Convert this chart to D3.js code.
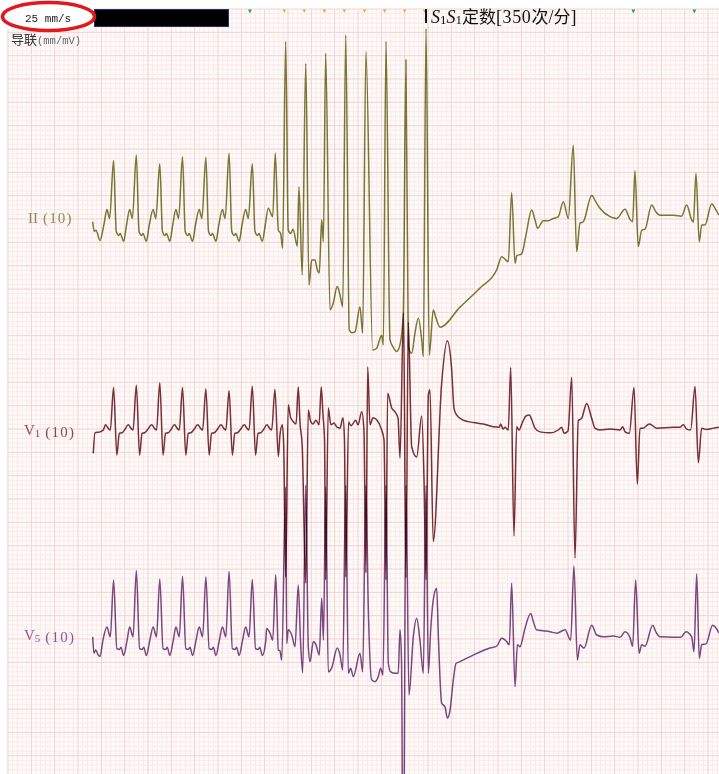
<!DOCTYPE html>
<html><head><meta charset="utf-8">
<script src="https://cdn.jsdelivr.net/npm/d3@7"></script>
<style>html,body{margin:0;padding:0;background:#fff;}svg{display:block}</style>
</head><body>
<svg id="c" width="719" height="774"></svg>
<script>
// ---------- DATA (time in s, amplitude in mV) ----------
const nativeBeatTimes = [0.905, 1.100, 1.301, 1.496, 1.696, 1.895, 2.094];
const paceTimes = [2.380, 2.552, 2.723, 2.895, 3.068, 3.240, 3.411, 3.583];
const senseMarkTimes = [2.074, 5.360, 5.883];

const leadIIStart = [[0.726,-0.08],[0.740,-0.29],[0.754,-0.26],[0.789,-0.48],[0.823,-0.13]];
const leadIITemplate = [[-0.057,0.18],[-0.034,-0.01],[0,null],[0.023,-0.29],[0.045,-0.375],[0.057,-0.33],[0.086,-0.50],[0.111,-0.15]];
const leadIIR = [1.23,1.35,1.16,1.31,1.30,1.39,1.16];
const leadIIRest = [[2.231,0.21],[2.269,0.03],[2.291,1.39],[2.317,-0.26],[2.337,-0.33],[2.354,-0.65],[2.380,3.78],[2.402,-0.26],[2.423,-0.33],[2.443,-0.24],[2.480,-0.60],[2.494,0.67],[2.522,-1.22],[2.552,3.31],[2.580,-1.44],[2.603,-0.90],[2.631,-0.90],[2.651,-1.11],[2.668,-1.18],[2.689,-0.04],[2.703,-0.51],[2.723,3.53],[2.760,-1.97],[2.786,-1.84],[2.822,-1.47],[2.846,-1.65],[2.869,-1.90],[2.895,3.92],[2.925,-2.40],[2.948,-2.46],[2.974,-2.44],[3.017,-1.90],[3.040,-2.47],[3.068,3.56],[3.126,-2.83],[3.160,-2.79],[3.203,-2.51],[3.217,-2.72],[3.240,3.78],[3.274,-2.61],[3.300,-2.76],[3.332,-2.86],[3.360,-2.72],[3.388,-2.04],[3.411,3.39],[3.431,-2.76],[3.460,-2.90],[3.488,-2.47],[3.517,-2.15],[3.546,-2.61],[3.560,-2.97],[3.583,4.06],[3.611,-2.94],[3.645,-1.97],[3.668,-2.14],[3.703,-2.34],[3.874,-1.91],[4.046,-1.50],[4.189,-1.11],[4.232,-0.83],[4.260,-0.88],[4.288,-0.94],[4.317,0.54],[4.346,-0.97],[4.360,-0.81],[4.403,-0.77],[4.440,-0.36],[4.489,0.17],[4.517,-0.04],[4.540,-0.22],[4.588,-0.06],[4.631,-0.06],[4.674,-0.01],[4.717,0.03],[4.760,0.35],[4.803,-0.01],[4.845,1.56],[4.874,-0.72],[4.903,-0.11],[4.931,-0.08],[5.003,0.48],[5.040,0.34],[5.074,0.21],[5.160,0.03],[5.217,-0.01],[5.289,0.19],[5.331,-0.03],[5.354,-0.08],[5.374,1.01],[5.402,-0.61],[5.432,-0.26],[5.460,-0.24],[5.517,0.28],[5.554,0.13],[5.589,0.06],[5.703,0.06],[5.774,0.04],[5.817,0.28],[5.860,-0.04],[5.875,-0.09],[5.897,0.96],[5.925,-0.51],[5.946,-0.15],[5.974,-0.15],[6.031,0.30],[6.069,0.17],[6.094,0.06]];

const leadV1Start = [[0.731,-0.50],[0.746,-0.06],[0.789,-0.04],[0.817,0]];
const leadV1Template = [[-0.069,0.11],[-0.047,0.04],[-0.028,0],[0,null],[0.028,-0.54],[0.049,-0.07],[0.072,-0.06],[0.094,0]];
const leadV1R = [0.91,0.96,1.01,0.91,0.88,0.84,0.94];
const leadV1Rest = [[2.220,0.11],[2.241,0.04],[2.260,0],[2.288,0.87],[2.317,-0.57],[2.331,-0.11],[2.351,0.11],[2.363,-0.32],[2.380,-3.15],[2.402,0.54],[2.423,0.26],[2.445,0.18],[2.469,0.13],[2.488,0.92],[2.503,0.15],[2.522,-0.34],[2.552,-3.28],[2.574,0.43],[2.593,0.19],[2.614,0.13],[2.640,0.21],[2.666,0.11],[2.685,0.92],[2.700,0.32],[2.713,-0.21],[2.723,-3.21],[2.745,0.47],[2.768,0.11],[2.794,0.15],[2.820,0.06],[2.846,0.04],[2.871,0.26],[2.884,-0.21],[2.895,-3.15],[2.919,0.17],[2.940,0.09],[2.980,0.21],[3.000,0.11],[3.032,0.39],[3.051,0],[3.068,-3.06],[3.083,1.35],[3.103,0.11],[3.129,0.26],[3.163,0.21],[3.197,0.04],[3.223,-0.21],[3.240,-3.21],[3.254,0.79],[3.289,0.47],[3.317,0.39],[3.343,0.26],[3.360,-0.60],[3.390,2.51],[3.411,-3.17],[3.431,2.31],[3.460,-0.36],[3.503,-0.58],[3.546,0.30],[3.566,-1.07],[3.583,-3.21],[3.603,0.75],[3.617,0.86],[3.645,-2.39],[3.717,1.00],[3.765,1.91],[3.803,1.29],[3.823,0.46],[3.846,0.32],[3.903,0.21],[3.988,0.16],[4.074,0.13],[4.160,0.07],[4.211,0.06],[4.223,0.13],[4.243,0.02],[4.260,0.06],[4.288,0],[4.309,1.34],[4.337,-2.27],[4.360,0.07],[4.380,0],[4.412,0.18],[4.440,0.30],[4.469,0.32],[4.491,0.21],[4.517,0.04],[4.560,-0.04],[4.646,-0.06],[4.717,0],[4.746,0.06],[4.766,-0.07],[4.800,-0.02],[4.832,1.13],[4.860,-2.75],[4.888,0.20],[4.917,0.25],[4.960,0.57],[5.003,0.25],[5.031,0.04],[5.074,0],[5.160,0.02],[5.246,0],[5.269,0.07],[5.289,-0.04],[5.326,-0.07],[5.366,0.91],[5.394,-1.16],[5.417,0.04],[5.443,0.04],[5.497,0.13],[5.560,0.04],[5.703,0.06],[5.760,0.06],[5.789,0.11],[5.817,0.02],[5.851,0],[5.889,0.93],[5.917,-0.70],[5.946,0.04],[5.989,0.01],[6.046,0.04],[6.094,0.06]];

const leadV5Start = [[0.726,-0.04],[0.737,-0.39],[0.752,-0.32],[0.774,-0.43],[0.789,-0.46],[0.814,-0.11]];
const leadV5Template = [[-0.057,0.17],[-0.028,-0.04],[0,null],[0.028,-0.29],[0.051,-0.31],[0.064,-0.26],[0.086,-0.44],[0.116,-0.11]];
const leadV5R = [1.18,1.38,1.20,1.26,1.25,1.36,1.19];
const leadV5Rest = [[2.217,0.14],[2.246,0.04],[2.269,-0.11],[2.295,1.29],[2.317,-0.32],[2.331,-0.34],[2.346,-0.54],[2.380,3.17],[2.389,-0.18],[2.402,0.11],[2.432,0],[2.460,-0.25],[2.488,1.07],[2.507,-0.11],[2.526,-0.81],[2.552,3.21],[2.574,-0.25],[2.589,-0.57],[2.617,-0.14],[2.640,-0.21],[2.668,-0.43],[2.689,0.79],[2.704,-0.11],[2.723,3.17],[2.745,-0.79],[2.774,-0.71],[2.822,-0.28],[2.846,-0.43],[2.869,-0.75],[2.895,3.21],[2.917,-0.82],[2.937,-0.71],[2.960,-0.89],[3.017,-0.39],[3.040,-0.79],[3.068,3.21],[3.088,0.61],[3.117,-0.96],[3.146,-1.00],[3.174,-0.89],[3.194,-0.71],[3.214,-0.86],[3.240,3.21],[3.260,-0.61],[3.280,-0.79],[3.317,-0.82],[3.345,-0.82],[3.360,0.11],[3.373,-0.54],[3.388,-6.17],[3.411,3.21],[3.437,-1.29],[3.474,-0.04],[3.503,0.36],[3.531,-0.11],[3.560,-0.82],[3.583,3.21],[3.603,-0.82],[3.623,0.11],[3.645,0.75],[3.674,1.00],[3.690,-0.11],[3.717,-1.46],[3.746,-1.54],[3.766,-1.78],[3.789,-1.61],[3.817,-0.96],[3.840,-0.61],[3.874,-0.57],[3.988,-0.43],[4.131,-0.28],[4.189,-0.24],[4.232,-0.07],[4.274,-0.14],[4.297,-0.21],[4.317,1.11],[4.346,-1.11],[4.366,-0.21],[4.389,-0.25],[4.431,0.14],[4.480,0.46],[4.504,0.28],[4.531,0.11],[4.588,0.09],[4.646,0.07],[4.703,0.04],[4.774,0.11],[4.823,-0.11],[4.851,1.48],[4.880,-0.54],[4.903,-0.21],[4.937,-0.28],[5.003,0.21],[5.046,0],[5.103,-0.04],[5.189,-0.02],[5.246,-0.05],[5.289,0.07],[5.331,-0.05],[5.354,-0.24],[5.380,1.18],[5.409,-0.39],[5.432,-0.21],[5.460,-0.24],[5.526,0.21],[5.554,0.06],[5.589,-0.04],[5.703,-0.05],[5.766,-0.05],[5.811,0.07],[5.860,-0.04],[5.880,-0.36],[5.903,1.31],[5.925,-0.50],[5.946,-0.21],[5.983,-0.19],[6.040,0.21],[6.069,0.15],[6.094,0.04]];

const leadNames = ["II", "V1", "V5"];
const gainLabel = "(10)";

// ---------- DRAW ----------
const W = 719, H = 774;
const svg = d3.select("#c");
const x = d3.scaleLinear().domain([0, 6]).range([8, 708]);
const pxPerMV = 46.67;           // 10 mm/mV
const paper = d3.scaleLinear().domain([0, 1]).range([9, 9 + 4.667]); // mm rows

svg.append("rect").attr("width", W).attr("height", H).attr("fill", "#ffffff");
svg.append("rect").attr("x", 7).attr("y", 9).attr("width", W - 7).attr("height", H - 9).attr("fill", "#fefaf9");

const MINOR = "#f8ebea", MAJOR = "#f2d2d2";
const gMinor = svg.append("g"), gMajor = svg.append("g");
const nMinX = Math.ceil(x.invert(W) / 0.04);
for (let i = 0; i <= nMinX; i++) {
  const xx = x(i * 0.04);
  if (xx < 7 || xx > W) continue;
  const major = i % 5 === 0;
  (major ? gMajor : gMinor).append("line").attr("x1", xx).attr("x2", xx).attr("y1", 9).attr("y2", H)
    .attr("stroke", major ? MAJOR : MINOR).attr("stroke-width", 1);
}
const nMinY = Math.ceil((H - 9) / 4.667);
for (let j = 0; j <= nMinY; j++) {
  const yy = paper(j);
  const major = j % 5 === 0;
  (major ? gMajor : gMinor).append("line").attr("x1", 7).attr("x2", W).attr("y1", yy).attr("y2", yy)
    .attr("stroke", major ? MAJOR : MINOR).attr("stroke-width", 1);
}

function buildSeries(start, template, times, amps, rest) {
  const pts = start.slice();
  times.forEach((t0, i) => template.forEach(([dt, v]) => pts.push([t0 + dt, v === null ? amps[i] : v])));
  return pts.concat(rest);
}

const leads = [
  {name: leadNames[0], base: 218, color: "#7c7b36", labelColor: "#8d8c55",
   data: buildSeries(leadIIStart, leadIITemplate, nativeBeatTimes, leadIIR, leadIIRest)},
  {name: leadNames[2], base: 635, color: "#7e4a86", labelColor: "#8a5a92",
   data: buildSeries(leadV5Start, leadV5Template, nativeBeatTimes, leadV5R, leadV5Rest)},
  {name: leadNames[1], base: 430, color: "#7a3139", labelColor: "#8a4d52",
   data: buildSeries(leadV1Start, leadV1Template, nativeBeatTimes, leadV1R, leadV1Rest)}
];

leads.forEach(L => {
  const y = d3.scaleLinear().domain([-1, 1]).range([L.base + pxPerMV, L.base - pxPerMV]);
  const line = d3.line().x(d => x(d[0])).y(d => y(d[1])).curve(d3.curveMonotoneX);
  svg.append("path").datum(L.data).attr("d", line).attr("fill", "none")
    .attr("stroke", L.color).attr("stroke-width", 1.5).attr("stroke-linejoin", "round")
    .style("mix-blend-mode", "multiply");
  const t = svg.append("text").attr("x", L.name === "II" ? 28 : 24).attr("y", L.base + 5)
    .attr("font-family", "'Liberation Serif','DejaVu Serif',serif").attr("font-size", 15)
    .attr("fill", L.labelColor);
  if (L.name === "II") {
    t.append("tspan").text("II");
  } else {
    t.append("tspan").text("V");
    t.append("tspan").attr("font-size", 11).attr("dy", 2).text(L.name.slice(1));
    t.append("tspan").attr("dy", -2).text("");
  }
  t.append("tspan").attr("letter-spacing", 1.2).text(" " + gainLabel);
});

// ---------- HEADER ----------
svg.append("rect").attr("x", 0).attr("y", 0).attr("width", 93).attr("height", 29).attr("fill", "#fff");
svg.append("rect").attr("x", 94.5).attr("y", 9.5).attr("width", 134).attr("height", 17)
  .attr("fill", "#000").attr("stroke", "#22337a").attr("stroke-width", 1);
svg.append("text").attr("x", 25).attr("y", 21.5).attr("font-family", "'Liberation Mono','DejaVu Sans Mono',monospace")
  .attr("font-size", 11).attr("fill", "#222").text("25 mm/s");
svg.append("ellipse").attr("cx", 48.5).attr("cy", 16.5).attr("rx", 46).attr("ry", 14)
  .attr("fill", "none").attr("stroke", "#e3181c").attr("stroke-width", 3.5);

const lead = svg.append("text").attr("x", 11).attr("y", 44).attr("fill", "#333");
lead.append("tspan").attr("font-family", "'Noto Sans CJK SC',sans-serif").attr("font-size", 13).text("导联");
lead.append("tspan").attr("font-family", "'Liberation Mono',monospace").attr("font-size", 10.5).attr("fill", "#666").text("(mm/mV)");

svg.append("g").selectAll("path").data(paceTimes).join("path")
  .attr("d", t => `M${x(t) - 3.2},9.5 L${x(t) + 0.4},9.5 L${x(t) - 1.4},12.8 Z`).attr("fill", "#f0a048");
svg.append("g").selectAll("path").data(senseMarkTimes).join("path")
  .attr("d", t => `M${x(t) - 1.9},9.5 L${x(t) + 1.9},9.5 L${x(t)},13.5 Z`).attr("fill", "#2aa04a");
const lastPace = x(paceTimes[paceTimes.length - 1]);
svg.append("line").attr("x1", lastPace).attr("x2", lastPace)
  .attr("y1", 9).attr("y2", 23).attr("stroke", "#111").attr("stroke-width", 2);

const title = svg.append("text").attr("x", 431).attr("y", 23)
  .attr("font-family", "'Liberation Serif','Noto Sans CJK SC',serif").attr("font-size", 18).attr("fill", "#111");
title.append("tspan").attr("font-style", "italic").text("S");
title.append("tspan").attr("font-size", 13).attr("dy", 1).text("1");
title.append("tspan").attr("font-style", "italic").attr("dy", -1).text("S");
title.append("tspan").attr("font-size", 13).attr("dy", 1).text("1");
title.append("tspan").attr("dy", -1).attr("font-family", "'Noto Sans CJK SC',sans-serif").attr("font-size", 17).text("定数");
title.append("tspan").attr("letter-spacing", 0.6).text("[350");
title.append("tspan").attr("font-family", "'Noto Sans CJK SC',sans-serif").attr("font-size", 17).text("次");
title.append("tspan").text("/");
title.append("tspan").attr("font-family", "'Noto Sans CJK SC',sans-serif").attr("font-size", 17).text("分");
title.append("tspan").text("]");
</script>
</body></html>
